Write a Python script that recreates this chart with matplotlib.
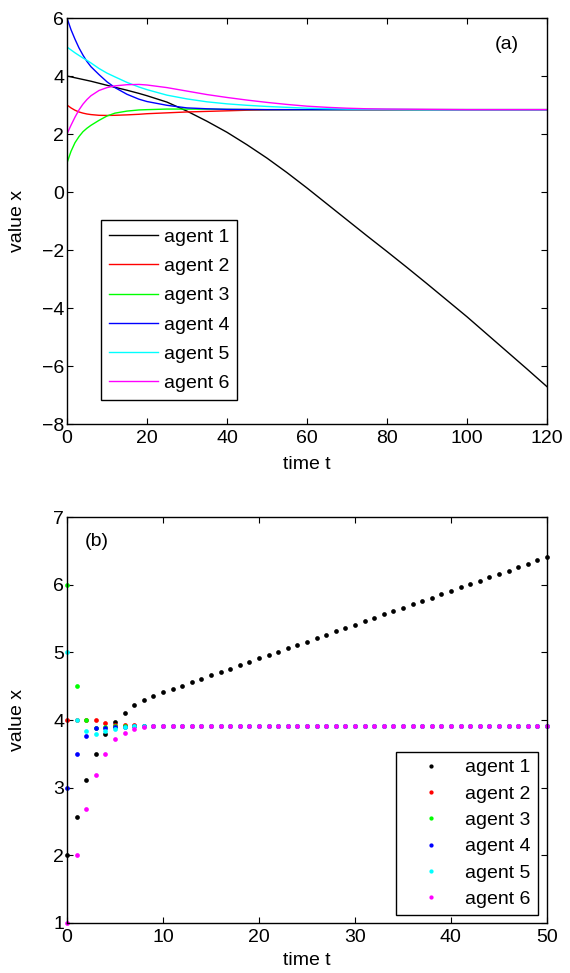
import matplotlib
matplotlib.use("Agg")
import matplotlib.pyplot as plt

plt.rcParams['font.family'] = ['Liberation Sans', 'DejaVu Sans']
plt.rcParams['font.size'] = 14

# ---- panel (a): continuous-time trajectories ----
t_a = [0, 1, 2, 3, 4, 5, 6, 8, 10, 12, 15, 18, 20, 25, 30, 35, 40, 45, 50,
       55, 60, 65, 70, 75, 80, 85, 90, 95, 100, 105, 110, 115, 120]
a1 = [4.0, 3.97, 3.94, 3.91, 3.88, 3.85, 3.82, 3.75, 3.68, 3.61, 3.51, 3.40, 3.32,
      3.10, 2.79, 2.44, 2.06, 1.63, 1.17, 0.67, 0.14, -0.41, -0.96, -1.51, -2.05,
      -2.60, -3.16, -3.73, -4.30, -4.90, -5.50, -6.10, -6.71]
a2 = [3.0, 2.90, 2.82, 2.76, 2.72, 2.69, 2.67, 2.645, 2.64, 2.645, 2.66, 2.68, 2.70,
      2.73, 2.76, 2.78, 2.80, 2.82, 2.83, 2.835, 2.84, 2.84, 2.84, 2.84, 2.84,
      2.84, 2.84, 2.84, 2.84, 2.84, 2.84, 2.84, 2.84]
a3 = [1.0, 1.40, 1.70, 1.91, 2.08, 2.20, 2.30, 2.47, 2.62, 2.72, 2.79, 2.83, 2.84,
      2.86, 2.86, 2.855, 2.85, 2.845, 2.84, 2.84, 2.84, 2.84, 2.84, 2.84, 2.84,
      2.84, 2.84, 2.84, 2.84, 2.84, 2.84, 2.84, 2.84]
a4 = [6.0, 5.60, 5.27, 4.97, 4.72, 4.50, 4.32, 4.05, 3.80, 3.60, 3.37, 3.20, 3.12,
      2.99, 2.90, 2.87, 2.85, 2.845, 2.84, 2.84, 2.84, 2.84, 2.84, 2.84, 2.84,
      2.84, 2.84, 2.84, 2.84, 2.84, 2.84, 2.84, 2.84]
a5 = [5.0, 4.90, 4.80, 4.71, 4.62, 4.54, 4.45, 4.26, 4.10, 3.97, 3.78, 3.62, 3.53,
      3.34, 3.21, 3.11, 3.04, 2.99, 2.95, 2.92, 2.89, 2.875, 2.86, 2.855, 2.85,
      2.845, 2.84, 2.84, 2.84, 2.84, 2.84, 2.84, 2.84]
a6 = [2.0, 2.30, 2.58, 2.83, 3.03, 3.19, 3.32, 3.50, 3.60, 3.66, 3.70, 3.71, 3.69,
      3.60, 3.48, 3.36, 3.26, 3.17, 3.09, 3.02, 2.96, 2.92, 2.89, 2.87, 2.86,
      2.855, 2.85, 2.845, 2.84, 2.84, 2.84, 2.84, 2.84]

# ---- panel (b): discrete-time iterations ----
t_b = list(range(51))
b1 = [2.0, 2.56, 3.11, 3.50, 3.80, 3.97, 4.11, 4.22, 4.29, 4.35,
      4.41, 4.46, 4.51, 4.56, 4.61, 4.66, 4.71, 4.76, 4.81, 4.86,
      4.91, 4.96, 5.01, 5.06, 5.11, 5.16, 5.21, 5.26, 5.31, 5.36,
      5.41, 5.46, 5.51, 5.56, 5.61, 5.66, 5.71, 5.76, 5.81, 5.86,
      5.91, 5.96, 6.01, 6.06, 6.11, 6.16, 6.21, 6.26, 6.31, 6.36, 6.41]
b2 = [4.0, 4.0, 4.0, 4.0, 3.95, 3.93, 3.93, 3.92, 3.91, 3.91] + [3.91] * 41
b3 = [6.0, 4.5, 4.0, 3.88, 3.90, 3.91, 3.91, 3.91, 3.91, 3.91] + [3.91] * 41
b4 = [3.0, 3.5, 3.76, 3.88, 3.88, 3.90, 3.90, 3.91, 3.91, 3.91] + [3.91] * 41
b5 = [5.0, 4.0, 3.84, 3.80, 3.84, 3.86, 3.90, 3.91, 3.91, 3.91] + [3.91] * 41
b6 = [1.0, 2.0, 2.69, 3.18, 3.50, 3.72, 3.81, 3.87, 3.89, 3.91] + [3.91] * 41

labels = ['agent 1', 'agent 2', 'agent 3', 'agent 4', 'agent 5', 'agent 6']
# MATLAB-style pure colours
colors = [(0, 0, 0), (1, 0, 0), (0, 1, 0), (0, 0, 1), (0, 1, 1), (1, 0, 1)]

fig = plt.figure(figsize=(5.7, 9.73), dpi=100)
ax1 = fig.add_axes([0.1175, 0.5642, 0.842, 0.4173])
ax2 = fig.add_axes([0.1175, 0.0514, 0.842, 0.4172])


def style(ax):
    ax.tick_params(direction='in', length=4, width=0.8, top=True, right=True,
                   labelsize=14)
    ax.tick_params(axis='x', pad=4)
    ax.tick_params(axis='y', pad=2)
    for s in ax.spines.values():
        s.set_linewidth(1.0)


for ys, c, lab in zip([a1, a2, a3, a4, a5, a6], colors, labels):
    ax1.plot(t_a, ys, color=c, lw=1.0, label=lab)
ax1.set_xlim(0, 120)
ax1.set_ylim(-8, 6)
ax1.set_xticks(range(0, 121, 20))
ax1.set_yticks(range(-8, 7, 2))
ax1.set_yticklabels([str(v).replace('-', '\u2212') for v in range(-8, 7, 2)])
ax1.set_xlabel('time t', fontsize=14)
ax1.set_ylabel('value x', fontsize=14)
ax1.xaxis.set_label_coords(0.5, -0.078)
ax1.yaxis.set_label_coords(-0.085, 0.5)
ax1.text(110, 5.08, '(a)', fontsize=14, ha='center', va='center')
style(ax1)
leg1 = ax1.legend(loc='upper left', bbox_to_anchor=(0.07, 0.5025), fontsize=14,
                  frameon=True, fancybox=False, edgecolor='k', framealpha=1,
                  handlelength=2.55, handletextpad=0.28, labelspacing=0.6,
                  borderpad=0.42, borderaxespad=0)
leg1.get_frame().set_linewidth(1.0)

for ys, c, lab in zip([b1, b2, b3, b4, b5, b6], colors, labels):
    ax2.plot(t_b, ys, ls='none', marker='o', ms=3.4, mec='none', color=c,
             label=lab, clip_on=False)
ax2.set_xlim(0, 50)
ax2.set_ylim(1, 7)
ax2.set_xticks(range(0, 51, 10))
ax2.set_yticks(range(1, 8))
ax2.set_xlabel('time t', fontsize=14)
ax2.set_ylabel('value x', fontsize=14)
ax2.xaxis.set_label_coords(0.5, -0.072)
ax2.yaxis.set_label_coords(-0.085, 0.5)
ax2.text(1.9, 6.64, '(b)', fontsize=14, ha='left', va='center')
style(ax2)
leg2 = ax2.legend(loc='lower right', bbox_to_anchor=(0.981, 0.0197), fontsize=14,
                  frameon=True, fancybox=False, edgecolor='k', framealpha=1,
                  handlelength=2.9, handletextpad=0.3, labelspacing=0.45,
                  borderpad=0.35, borderaxespad=0, markerscale=0.9)
leg2.get_frame().set_linewidth(1.0)

fig.savefig('out.png', dpi=100)
